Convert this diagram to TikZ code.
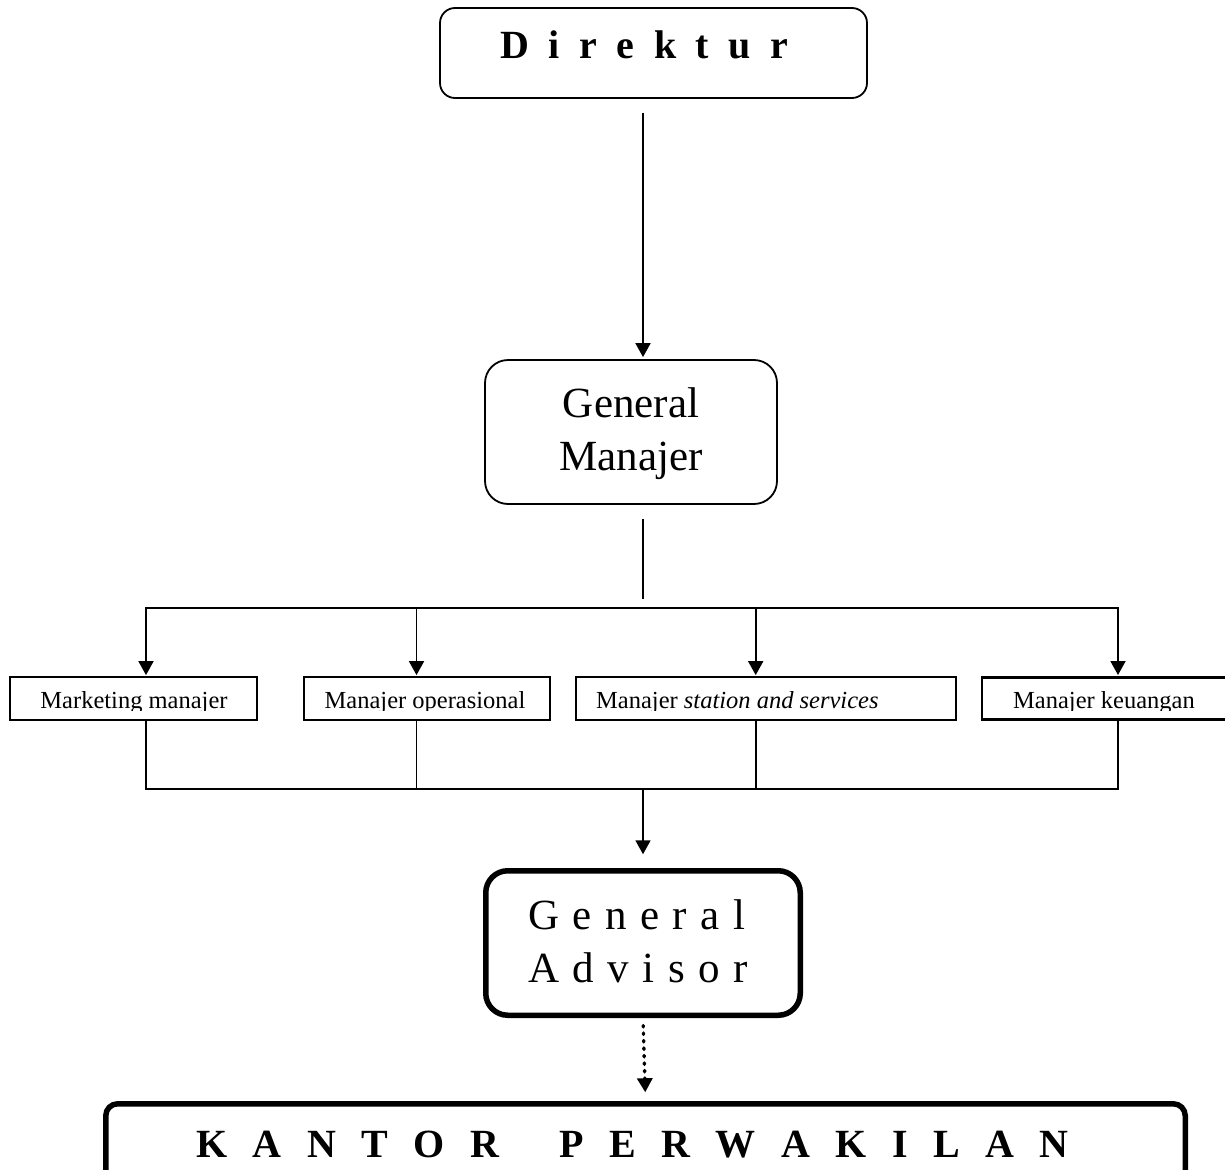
\documentclass[tikz,border=0pt]{standalone}
\usepackage{fontspec}
\setmainfont{Liberation Serif}
\usetikzlibrary{arrows.meta}

% extra space between spread-out letters
\newlength\lsgap
\newcommand\lsp{\hskip\lsgap}

\begin{document}
\begin{tikzpicture}[x=1pt,y=-1pt,
  conn/.style={line width=1.8pt},
  bus/.style={conn,line cap=rect},
  arr/.style={conn,-{Triangle[length=14pt,width=15pt]}},
  dotarr/.style={line width=3.4pt,line cap=round,dash pattern=on 1.4pt off 6.1pt,
                 -{Triangle[length=14pt,width=15pt]}},
  softbox/.style={draw,line width=1.8pt,inner sep=0pt},
  plainbox/.style={draw,line width=1.8pt,inner sep=0pt,minimum height=43pt},
  heavybox/.style={draw,line width=5.5pt,inner sep=0pt},
  dirtxt/.style={inner sep=0pt,font=\fontsize{40pt}{48pt}\selectfont\bfseries},
  bigtxt/.style={inner sep=0pt,font=\fontsize{43pt}{53pt}\selectfont},
  rowtxt/.style={inner sep=0pt,font=\fontsize{24.5pt}{29pt}\selectfont},
  kotxt/.style={inner sep=0pt,font=\fontsize{40pt}{48pt}\selectfont\bfseries}]

\useasboundingbox (0,0) rectangle (1225,1169);
\clip (0,0) rectangle (1225,1169);

% ---- boxes ----
\node[softbox,minimum width=427pt,minimum height=90pt,rounded corners=15pt] (dir) at (653.5,53) {};
\node[softbox,minimum width=292pt,minimum height=144pt,rounded corners=23pt] (gm) at (631,432) {};
\node[plainbox,minimum width=247pt] (b1) at (133.6,698.5) {};
\node[plainbox,minimum width=246.5pt] (b2) at (427,698.5) {};
\node[plainbox,minimum width=380pt] (b3) at (766,698.5) {};
\node[plainbox,line width=2.6pt,minimum width=244.4pt,minimum height=42.4pt] (b4) at (1104,698.5) {};
\node[heavybox,minimum width=314.5pt,minimum height=144.5pt,rounded corners=22pt] (ga) at (643,943) {};
\node[heavybox,minimum width=1079.5pt,minimum height=100pt,rounded corners=12pt] (ko) at (645.5,1153.75) {};

% ---- labels ----
\node[dirtxt,anchor=base west] (dirt) at (500,59)
  {\setlength\lsgap{19.6pt}D\lsp i\lsp r\lsp e\lsp k\lsp t\lsp u\lsp r};
\node[bigtxt,anchor=base] (gmt1) at (631,417) {General};
\node[bigtxt,anchor=base] (gmt2) at (631,470) {Manajer};

\begin{scope}
  \clip (0,660) rectangle (1225,710.8);
  \node[rowtxt,anchor=base] (b1t) at (134,708.3) {Marketing manajer};
  \node[rowtxt,anchor=base] (b2t) at (425,708.3) {Manajer operasional};
  \node[rowtxt,anchor=base west] (b3t) at (596,708.3) {Manajer \textit{station and services}};
  \node[rowtxt,anchor=base] (b4t) at (1104,708.3) {Manajer keuangan};
\end{scope}

\node[bigtxt,anchor=base west] (gat1) at (528,929)
  {\setlength\lsgap{13.5pt}G\lsp e\lsp n\lsp e\lsp r\lsp a\lsp l};
\node[bigtxt,anchor=base west] (gat2) at (528,982)
  {\setlength\lsgap{13.5pt}A\lsp d\lsp v\lsp i\lsp s\lsp o\lsp r};

\node[kotxt,anchor=base west] (kot) at (196,1157)
  {\setlength\lsgap{25.5pt}K\lsp A\lsp N\lsp T\lsp O\lsp R\hskip60pt P\lsp E\lsp R\lsp W\lsp A\lsp K\lsp I\lsp L\lsp A\lsp N};

% ---- connector points ----
\coordinate (hub) at (643,608);
\coordinate (hubl) at (643,789);
\coordinate (t1) at (146,608);   \coordinate (u1) at (146,789);
\coordinate (t2) at (416.5,608); \coordinate (u2) at (416.5,789);
\coordinate (t3) at (755.7,608); \coordinate (u3) at (755.7,789);
\coordinate (t4) at (1118,608);  \coordinate (u4) at (1118,789);

% ---- connectors ----
\draw[arr,shorten <=14pt,shorten >=2pt] (dir.south -| ga.center) -- (gm.north -| ga.center);
\draw[conn,shorten <=14pt,shorten >=9pt] (gm.south -| hub) -- (hub);
\draw[bus] (t1) -- (t4);
\foreach \i in {1,...,4} {
  \draw[arr,shorten >=1pt] (t\i) -- (t\i |- b\i.north);
  \draw[conn] (t\i |- b\i.south) -- (u\i);
}
\draw[bus] (u1) -- (u4);
\draw[arr,shorten >=13.75pt] (hubl) -- (ga.north);
\draw[dotarr,shorten <=7.5pt,shorten >=8.75pt] (ga.south) -- (ko.north);

\end{tikzpicture}
\end{document}
